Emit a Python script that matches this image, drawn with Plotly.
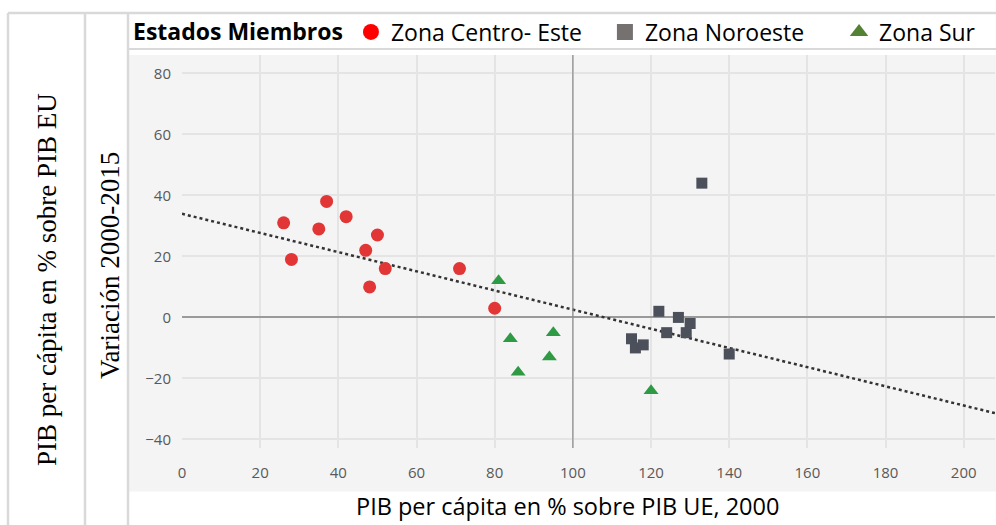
import numpy as np
import plotly.graph_objects as go

# Zona Centro- Este
ce_x = [26, 37, 42, 35, 50, 47, 28, 52, 48, 71, 80]
ce_y = [31, 38, 33, 29, 27, 22, 19, 16, 10, 16, 3]
# Zona Noroeste
no_x = [133, 122, 127, 130, 124, 129, 115, 116, 118, 140]
no_y = [44, 2, 0, -2, -5, -5, -7, -10, -9, -12]
# Zona Sur
su_x = [81, 84, 95, 94, 86, 120]
su_y = [12, -7, -5, -13, -18, -24]

x_ticks = list(range(0, 201, 20))
y_ticks = list(range(-40, 81, 20))
x_ref = 100

# recta de tendencia (MCO sobre todos los estados)
all_x = np.array(ce_x + no_x + su_x)
all_y = np.array(ce_y + no_y + su_y)
m, b = np.polyfit(all_x, all_y, 1)
x_rng = [0, 208]
tx = np.array(x_rng)

fig = go.Figure()
fig.add_trace(go.Scatter(x=tx, y=m * tx + b, mode="lines",
                         line=dict(color="#333333", width=2.5, dash="dot"),
                         showlegend=False, hoverinfo="skip"))
fig.add_trace(go.Scatter(x=ce_x, y=ce_y, mode="markers", showlegend=False,
                         marker=dict(symbol="circle", size=13, color="#E23535")))
fig.add_trace(go.Scatter(x=no_x, y=no_y, mode="markers", showlegend=False,
                         marker=dict(symbol="square", size=11, color="#4B505A")))
fig.add_trace(go.Scatter(x=su_x, y=su_y, mode="markers", showlegend=False,
                         marker=dict(symbol="triangle-up", size=13, color="#2E9A44")))

# entradas de leyenda (espacios duros para separar como en el original)
pad = "\u00a0"
for nm, sym, col in [("Zona Centro- Este" + pad * 3, "circle", "#FF0000"),
                     ("Zona Noroeste" + pad * 5, "square", "#767171"),
                     ("Zona Sur", "triangle-up", "#548235")]:
    fig.add_trace(go.Scatter(x=[None], y=[None], mode="markers", name=nm,
                             marker=dict(symbol=sym, size=26, color=col)))

bg = "#f4f4f4"
border = "#d9d9d9"
shapes = [
    dict(type="rect", xref="paper", yref="paper", x0=-0.0664, x1=1.01, y0=-0.111, y1=1.0,
         fillcolor=bg, line_width=0, layer="below"),
    dict(type="line", xref="x", yref="paper", x0=x_ref, x1=x_ref, y0=0, y1=1,
         line=dict(color="#8a8a8a", width=1.2)),
]
# marco tipo tabla
for px in [8, 85, 128]:
    xp = (px - 182) / 813
    shapes.append(dict(type="line", xref="paper", yref="paper", x0=xp, x1=xp,
                       y0=(448 - 530) / 393, y1=(448 - 13) / 393,
                       line=dict(color=border, width=2.5)))
shapes.append(dict(type="line", xref="paper", yref="paper", x0=(8 - 182) / 813, x1=1.01,
                   y0=(448 - 13) / 393, y1=(448 - 13) / 393, line=dict(color=border, width=2.5)))
shapes.append(dict(type="line", xref="paper", yref="paper", x0=(128 - 182) / 813, x1=1.01,
                   y0=(448 - 49) / 393, y1=(448 - 49) / 393, line=dict(color=border, width=2)))

fig.update_layout(
    width=996, height=525,
    margin=dict(l=182, r=1, t=55, b=77),
    paper_bgcolor="white", plot_bgcolor=bg,
    font=dict(family="Open Sans, sans-serif", color="#000"),
    shapes=shapes,
    showlegend=True,
    legend=dict(orientation="h", x=(131 - 182) / 813, xanchor="left",
                y=(448 - 32) / 393, yanchor="middle",
                bgcolor="rgba(0,0,0,0)", font=dict(size=23, family="Open Sans"),
                title=dict(text="<b>Estados Miembros</b>", side="left",
                           font=dict(size=23, family="Open Sans")),
                itemsizing="trace", traceorder="normal"),
    annotations=[
        dict(text="PIB per cápita en % sobre PIB UE, 2000", xref="paper", yref="paper",
             x=(567 - 182) / 813, y=(448 - 506) / 393, xanchor="center", yanchor="middle",
             showarrow=False, font=dict(size=23.5, family="Open Sans")),
        dict(text="PIB per cápita en % sobre PIB EU", xref="paper", yref="paper",
             x=(47 - 182) / 813, y=(448 - 280) / 393, textangle=-90,
             xanchor="center", yanchor="middle", showarrow=False,
             font=dict(size=27, family="Liberation Serif")),
        dict(text="Variación 2000-2015", xref="paper", yref="paper",
             x=(110 - 182) / 813, y=(448 - 266) / 393, textangle=-90,
             xanchor="center", yanchor="middle", showarrow=False,
             font=dict(size=27, family="Liberation Serif")),
    ],
)
fig.update_xaxes(range=x_rng, tickvals=x_ticks, showgrid=True, gridcolor="#e4e4e4",
                 gridwidth=1.5, zeroline=False, showline=False, ticks="",
                 ticklabelstandoff=14, tickfont=dict(size=15, color="#595959", family="Open Sans"))
fig.update_yaxes(range=[-42.8, 86], tickvals=y_ticks, showgrid=True, gridcolor="#e4e4e4",
                 gridwidth=1.5, zeroline=True, zerolinecolor="#9a9a9a", zerolinewidth=1.5,
                 showline=False, ticks="", ticklabelstandoff=10,
                 tickfont=dict(size=15, color="#595959", family="Open Sans"))

fig.write_html("out.html", config={"displayModeBar": False},
               post_script="document.body.style.margin='0';")
